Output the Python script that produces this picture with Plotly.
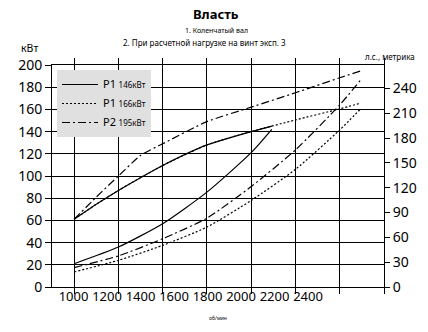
import plotly.graph_objects as go

# ---------------- data ----------------
rpm_p1_146 = [1000, 1100, 1200, 1300, 1400, 1600, 1800, 1893]
p1_146_full = [61, 74.5, 87, 98.5, 109.5, 128, 140, 145]
rpm_p1_146_prop = [1000, 1200, 1400, 1600, 1800, 1893]
p1_146_prop = [21, 36, 57, 85.5, 121, 142]

rpm_p1_166 = [1000, 1100, 1200, 1300, 1400, 1600, 1800, 2000, 2200, 2292]
p1_166_full = [61, 74.5, 87, 98.5, 109.5, 128, 140, 150.5, 160.5, 165.5]
rpm_p1_166_prop = [1000, 1200, 1400, 1600, 1800, 2000, 2200, 2292]
p1_166_prop = [13.5, 24, 37.5, 54, 78, 106, 141.5, 160]

rpm_p2 = [1000, 1100, 1200, 1300, 1400, 1600, 1800, 2000, 2200, 2292]
p2_full = [61, 81, 100, 118.5, 129, 149, 162, 175, 188.5, 194.5]
rpm_p2_prop = [1000, 1200, 1400, 1600, 1800, 2000, 2200, 2292]
p2_prop = [17.5, 28, 43.5, 62, 90.5, 123.5, 164, 186]

x_tick_labels = [1000, 1200, 1400, 1600, 1800, 2000, 2200, 2400]
kw_ticks = [0, 20, 40, 60, 80, 100, 120, 140, 160, 180, 200]
hp_ticks = [0, 30, 60, 90, 120, 150, 180, 210, 240]

series_labels = ["P1", "P1", "P2"]
series_ratings = ["146кВт", "166кВт", "195кВт"]
series_names = ["<span style='font-size:11px'>%s</span> <span style='font-size:8px'>%s</span>" % (a, b)
                for a, b in zip(series_labels, series_ratings)]

KW_TO_HP = 1.341
FONT = "Noto Sans"

# ---------------- figure ----------------
fig = go.Figure()

def add_pair(rpm_full, full, rpm_prop, prop, name, dash, group):
    fig.add_trace(go.Scatter(x=rpm_full, y=full, mode="lines", name=name,
                             legendgroup=group,
                             line=dict(color="black", width=1.2, dash=dash,
                                       shape="spline", smoothing=0.6)))
    fig.add_trace(go.Scatter(x=rpm_prop, y=prop, mode="lines", name=name,
                             legendgroup=group, showlegend=False,
                             line=dict(color="black", width=1.2, dash=dash,
                                       shape="spline", smoothing=0.6)))

add_pair(rpm_p1_146, p1_146_full, rpm_p1_146_prop, p1_146_prop, series_names[0], "solid", "a")
add_pair(rpm_p1_166, p1_166_full, rpm_p1_166_prop, p1_166_prop, series_names[1], "2px,2px", "b")
add_pair(rpm_p2, p2_full, rpm_p2_prop, p2_prop, series_names[2], "8px,3px,2px,3px", "c")

# helper trace for the label axis / right axis
fig.add_trace(go.Scatter(x=[None], y=[None], xaxis="x2", yaxis="y2",
                         showlegend=False, hoverinfo="skip"))

L, R, T, B = 52, 44, 65, 45
W, H = 428, 332
plot_w = W - L - R
plot_h = H - T - B

def px_x(p):
    return (p - L) / plot_w

def px_y(p):
    return (H - B - p) / plot_h

# label axis scale: labels are packed ~33.5 px apart starting at x=73.5
lab_step_px = 33.5
units_per_px = 200 / lab_step_px
lab_left = x_tick_labels[0] - (73.5 - L) * units_per_px
lab_right = lab_left + plot_w * units_per_px

fig.update_layout(
    width=W, height=H,
    margin=dict(l=L, r=R, t=T, b=B, autoexpand=False),
    paper_bgcolor="white", plot_bgcolor="white",
    font=dict(family=FONT, color="black"),
    showlegend=True,
    legend=dict(x=px_x(57), y=px_y(70), xanchor="left", yanchor="top",
                bgcolor="#e0e0e0", borderwidth=0,
                font=dict(size=10, family=FONT), tracegroupgap=0,
                itemwidth=36),
    xaxis=dict(range=[900, 2400], tick0=1000, dtick=200,
               showgrid=True, gridcolor="black", gridwidth=1,
               showline=True, linecolor="black", linewidth=1,
               ticks="outside", ticklen=6, tickcolor="black", mirror="ticks",
               showticklabels=False, zeroline=False, automargin=False),
    xaxis2=dict(overlaying="x", anchor="y", side="bottom",
                range=[lab_left, lab_right],
                tickvals=x_tick_labels, ticktext=[str(v) for v in x_tick_labels],
                showgrid=False, showline=False, ticks="", zeroline=False,
                tickfont=dict(size=13, family=FONT), automargin=False,
                title=dict(text="об/мин", font=dict(size=5, family=FONT), standoff=12)),
    yaxis=dict(range=[0, 200], tickvals=kw_ticks,
               showgrid=True, gridcolor="black", gridwidth=1,
               showline=True, linecolor="black", linewidth=1,
               ticks="outside", ticklen=6, tickcolor="black",
               tickfont=dict(size=14, family=FONT), zeroline=False, automargin=False),
    yaxis2=dict(overlaying="y", anchor="x", side="right",
                range=[0, 200 * KW_TO_HP], tickvals=hp_ticks,
                showgrid=False, showline=True, linecolor="black", linewidth=1,
                ticks="outside", ticklen=5, tickcolor="black",
                tickfont=dict(size=14, family=FONT), zeroline=False, automargin=False),
)

annos = [
    dict(text="<b>Власть</b>", x=px_x(216), y=px_y(14), font=dict(size=13)),
    dict(text="1. Коленчатый вал", x=px_x(216), y=px_y(30), font=dict(size=7)),
    dict(text="2. При расчетной нагрузке на винт эксп. 3", x=px_x(204), y=px_y(43), font=dict(size=8)),
    dict(text="кВт", x=px_x(29), y=px_y(48), font=dict(size=10.5)),
    dict(text="л.с., метрика", x=px_x(390), y=px_y(57), font=dict(size=8)),
]
for a in annos:
    fig.add_annotation(xref="paper", yref="paper", showarrow=False,
                       xanchor="center", yanchor="middle",
                       font_family=FONT, font_color="black", **a)

fig.write_html("out.html", config={"displayModeBar": False},
               post_script="document.body.style.margin='0';")
